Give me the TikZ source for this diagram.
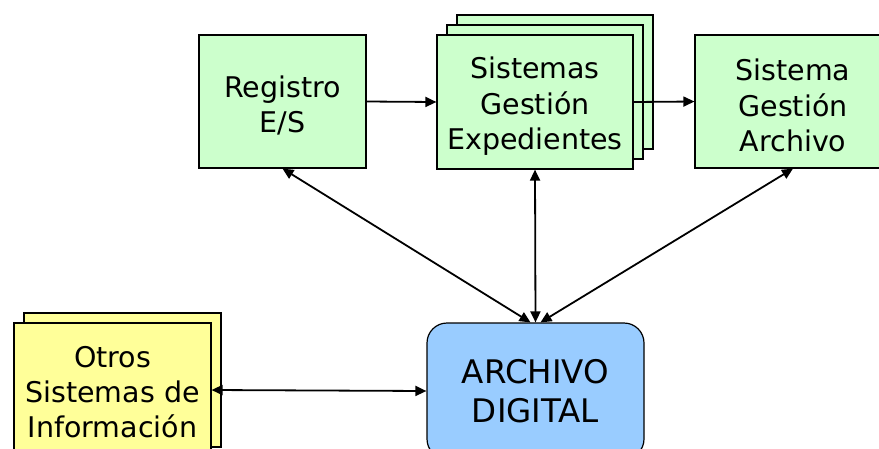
\documentclass[tikz,border=0pt]{standalone}
\usepackage{fontspec}
\setmainfont{DejaVu Sans}
\usetikzlibrary{arrows.meta}
\definecolor{boxgreen}{HTML}{CCFFCC}
\definecolor{boxyellow}{HTML}{FFFF99}
\definecolor{boxblue}{HTML}{99CCFF}
\newcommand\topgap[1]{\rule{0pt}{#1}}
\tikzset{
  gbox/.style={draw=black, line width=1.2pt, fill=boxgreen, inner sep=0pt, align=center,
    font=\fontsize{28.5}{35.5}\selectfont},
  ybox/.style={draw=black, line width=1.2pt, fill=boxyellow, inner sep=0pt, align=center,
    font=\fontsize{28.5}{35}\selectfont},
  bbox/.style={draw=black, line width=1.2pt, fill=boxblue, inner sep=0pt, align=center,
    rounded corners=20pt, font=\fontsize{32.5}{39}\selectfont},
  conn/.style={line width=1.8pt, -{Triangle[length=11pt,width=10pt]}},
  dconn/.style={line width=1.8pt, {Triangle[length=11pt,width=10pt]}-{Triangle[length=11pt,width=10pt]}},
}
\begin{document}
\begin{tikzpicture}[x=1pt,y=-1pt]
\useasboundingbox (0,0) rectangle (879,448);
\clip (0,0) rectangle (879,448);
% Registro
\node[gbox, minimum width=167pt, minimum height=133pt] (reg) at (282.5,101.5) {\topgap{30pt}Registro\\E/S};
% Sistemas Gestion Expedientes (stack)
\node[gbox, minimum width=196pt, minimum height=134pt] (sge3) at (555,82) {};
\node[gbox, minimum width=196pt, minimum height=134pt] (sge2) at (545,92) {};
\node[gbox, minimum width=196pt, minimum height=134pt] (sge) at (535,102) {\topgap{30pt}Sistemas\\Gestión\\Expedientes};
% Sistema Gestion Archivo
\node[gbox, minimum width=196pt, minimum height=133pt] (sga) at (793,101.5) {\topgap{30pt}Sistema\\Gestión\\Archivo};
% Otros
\node[ybox, minimum width=197pt, minimum height=134pt] (otros2) at (122.5,380) {};
\node[ybox, minimum width=197pt, minimum height=134pt] (otros) at (112.5,390) {\topgap{26pt}Otros\\Sistemas de\\Información};
% Archivo digital
\node[bbox, minimum width=217pt, minimum height=136pt] (arch) at (535.5,391) {ARCHIVO\\DIGITAL};
% connectors
\draw[conn] (reg.east) -- (sge.west);
\draw[conn] (sge.east) -- (sga.west);
\draw[dconn] (reg.south) -- ([xshift=-5pt]arch.north);
\draw[dconn] (sge.south) -- (arch.north);
\draw[dconn] (sga.south) -- ([xshift=5pt]arch.north);
\draw[dconn] (otros.east) -- (arch.west);
\end{tikzpicture}
\end{document}
